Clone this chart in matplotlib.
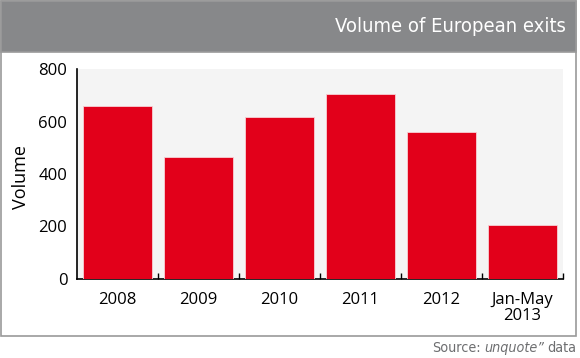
import matplotlib
matplotlib.use("Agg")
import matplotlib.pyplot as plt
from matplotlib.patches import Rectangle
from matplotlib import font_manager

categories = ["2008", "2009", "2010", "2011", "2012", "Jan-May\n2013"]
values = [659, 465, 617, 703, 559, 206]
yticks = [0, 200, 400, 600, 800]

names = {f.name for f in font_manager.fontManager.ttflist}
if "Liberation Sans Narrow" in names:
    cond = "Liberation Sans Narrow"
    stretch = "normal"
else:
    cond = "DejaVu Sans"
    stretch = "condensed"
body = "Open Sans"

W, H = 580, 358
fig = plt.figure(figsize=(W / 100, H / 100), dpi=100)

fig.patches.append(Rectangle((1 / W, 1 - 336 / H), 574.5 / W, 335 / H, transform=fig.transFigure,
                             facecolor="white", edgecolor="#9a9a9a", linewidth=1.2, zorder=-2))
fig.patches.append(Rectangle((1 / W, 1 - 52 / H), 574.5 / W, 51 / H, transform=fig.transFigure,
                             facecolor="#87888a", edgecolor="#9a9a9a", linewidth=1.2, zorder=-1))
fig.text(566 / W, 1 - 26 / H, "Volume of European exits", ha="right", va="center",
         color="white", fontsize=14.5, family=cond, fontstretch=stretch)

ax = fig.add_axes([77 / W, 1 - 279 / H, (563 - 77) / W, (279 - 69) / H])
ax.set_zorder(5)
ax.set_facecolor("#f4f4f4")
x = list(range(len(categories)))
ax.bar(x, values, width=0.86, color="#e2001a", edgecolor="#f8d0d4", linewidth=0.6, zorder=3)
ax.set_xlim(-0.5, len(categories) - 0.5)
ax.set_ylim(0, 800)
ax.set_yticks(yticks)
ax.set_yticklabels([str(t) for t in yticks], fontsize=12, family=body)
ax.tick_params(axis="y", length=0, pad=7)
ax.set_xticks(x)
ax.set_xticklabels(categories, fontsize=12, family=body, linespacing=1.05)
ax.tick_params(axis="x", length=0, pad=9)
ax.set_xticks([i + 0.5 for i in range(len(categories))], minor=True)
ax.tick_params(axis="x", which="minor", direction="in", length=4, width=1, color="black")
for s in ["top", "right"]:
    ax.spines[s].set_visible(False)
for s in ["left", "bottom"]:
    ax.spines[s].set_color("black")
    ax.spines[s].set_linewidth(1.2)
ax.set_ylabel("Volume", fontsize=13, family=body)
ax.yaxis.set_label_coords((30 - 77) / 486, (279 - 177) / 210)

fig.canvas.draw()
r = fig.canvas.get_renderer()
t1 = fig.text(576 / W, 1 - 348 / H, "data", ha="right", va="center", color="#6d6e70",
              fontsize=10.3, family=cond, fontstretch=stretch)
bb = t1.get_window_extent(r)
t2 = fig.text((bb.x0 - 3) / W, 1 - 348 / H, "unquote\u201d", ha="right", va="center",
              color="#6d6e70", fontsize=10.3, family=cond, style="italic", fontstretch=stretch)
bb2 = t2.get_window_extent(r)
fig.text((bb2.x0 - 3) / W, 1 - 348 / H, "Source:", ha="right", va="center",
         color="#6d6e70", fontsize=10.3, family=cond, fontstretch=stretch)

fig.savefig("out.png", dpi=100)
